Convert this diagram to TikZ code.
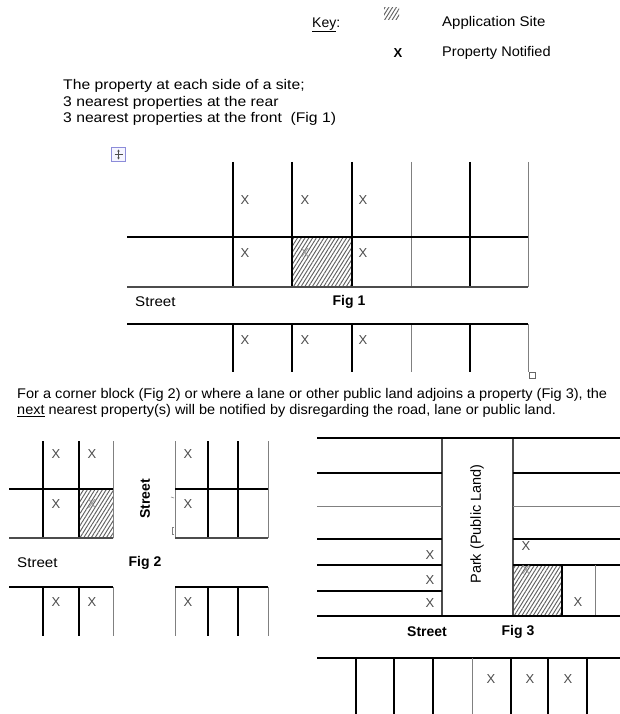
\documentclass[tikz,border=0pt]{standalone}
\usepackage{fontspec}
\setmainfont{Liberation Sans}
\usetikzlibrary{patterns.meta,arrows.meta}
\begin{document}
\begin{tikzpicture}[x=1pt,y=-1pt,
 bl/.style={line width=1.5pt,black},
 ml/.style={line width=1.1pt,black!70},
 gl/.style={line width=0.9pt,black!50},
 txt/.style={font=\fontsize{14}{16}\selectfont,inner sep=0pt,anchor=west},
 lab/.style={font=\fontsize{14}{16}\selectfont\bfseries,inner sep=0pt},
 xm/.style={font=\fontsize{13}{15}\selectfont,text=black!70,inner sep=0pt},
 xf/.style={xm,text=black!40},
 hatch/.style={pattern={Lines[angle=58,distance=3.2pt,line width=0.95pt]},pattern color=black!62},
]
\useasboundingbox[fill=white] (0,0) rectangle (620,714);

% ---------- Key ----------
\node[txt] (key) at (312,25) {\underline{Key}:};
\fill[hatch] (384,8) rectangle (399,20);
\node[txt,xscale=1.07] (app) at (442,23) {Application Site};
\node[font=\fontsize{13}{15}\selectfont\bfseries,inner sep=0pt] (kx) at (398,53) {X};
\node[txt,xscale=1.04] (pn) at (442,53) {Property Notified};

% ---------- intro text ----------
\node[txt,xscale=1.12] (p1) at (63,86) {The property at each side of a site;};
\node[txt,xscale=1.12] (p2) at (63,103) {3 nearest properties at the rear};
\node[txt,xscale=1.12] (p3) at (63,119) {3 nearest properties at the front\ \ (Fig 1)};

% move handle icon
\draw[blue!50!gray!60,fill=blue!4,line width=0.6pt] (111.5,147.5) rectangle (125.5,161.5);
\draw[black!70,line width=0.6pt,{Stealth[length=2pt,width=2.5pt]}-{Stealth[length=2pt,width=2.5pt]}] (118.5,149.5) -- (118.5,159.5);
\draw[black!70,line width=0.6pt] (114.5,154.5) -- (122.5,154.5);

% ---------- Fig 1 ----------
\fill[hatch] (292,237) rectangle (352,287);
\foreach \xx in {233,292,352,470}{
  \draw[bl] (\xx,162) -- (\xx,287);
  \draw[bl] (\xx,324) -- (\xx,372);
}
\foreach \xx in {411,528}{
  \draw[gl] (\xx,162) -- (\xx,287);
  \draw[gl] (\xx,324) -- (\xx,372);
}
\draw[bl] (127,237) -- (528,237);
\draw[ml] (127,287) -- (528,287);
\draw[bl] (127,324) -- (528,324);
\draw[black!60,line width=0.6pt] (529.5,372.5) rectangle (535,378);

\node[xm] (f1a) at (245,200) {X};
\node[xm] (f1b) at (305,200) {X};
\node[xm] (f1c) at (363,200) {X};
\node[xm] (f1d) at (245,253) {X};
\node[xf] (f1e) at (305,253) {X};
\node[xm] (f1f) at (363,253) {X};
\node[xm] (f1g) at (245,340) {X};
\node[xm] (f1h) at (305,340) {X};
\node[xm] (f1i) at (363,340) {X};
\node[txt,xscale=1.08] (st1) at (135,302) {Street};
\node[lab] (fig1) at (349,302) {Fig 1};

% ---------- paragraph ----------
\node[txt,xscale=1.04] (q1) at (17,395) {For a corner block (Fig 2) or where a lane or other public land adjoins a property (Fig 3), the};
\node[txt,xscale=1.035] (q2) at (17,411) {\underline{next} nearest property(s) will be notified by disregarding the road, lane or public land.};

% ---------- Fig 2 ----------
\fill[hatch] (79,489) rectangle (113,538);
\foreach \xx in {43,79,208,238}{
  \draw[bl] (\xx,441) -- (\xx,538);
  \draw[bl] (\xx,587) -- (\xx,636);
}
\foreach \xx in {113,175,268}{
  \draw[gl] (\xx,441) -- (\xx,538);
  \draw[gl] (\xx,587) -- (\xx,636);
}
\draw[bl] (9,489) -- (113,489);
\draw[ml] (9,538) -- (113,538);
\draw[bl] (175,489) -- (268,489);
\draw[ml] (175,538) -- (268,538);
\draw[bl] (9,587) -- (113,587);
\draw[bl] (175,587) -- (268,587);
\draw[black!50,line width=0.6pt] (171,497) -- (174,498);
\draw[black!50,line width=0.6pt] (174,527) -- (172,527) -- (172,534) -- (174,534);

\node[xm] (f2a) at (56,454) {X};
\node[xm] (f2b) at (92,454) {X};
\node[xm] (f2c) at (56,504) {X};
\node[xf] (f2d) at (92,504) {X};
\node[xm] (f2e) at (188,454) {X};
\node[xm] (f2f) at (188,504) {X};
\node[xm] (f2g) at (56,602) {X};
\node[xm] (f2h) at (92,602) {X};
\node[xm] (f2i) at (188,602) {X};
\node[lab,rotate=90] (st2v) at (145,499) {Street};
\node[txt,xscale=1.08] (st2) at (17,563) {Street};
\node[lab] (fig2) at (145,563) {Fig 2};

% ---------- Fig 3 ----------
\fill[hatch] (513,565) rectangle (562,616);
\draw[ml] (442,438) -- (442,616);
\draw[ml] (513,438) -- (513,616);
\draw[bl] (317,438) -- (620,438);
\foreach \yy in {473,539,565,591}{\draw[bl] (317,\yy) -- (442,\yy);}
\draw[gl] (317,506) -- (442,506);
\foreach \yy in {473,539,565}{\draw[bl] (513,\yy) -- (620,\yy);}
\draw[gl] (513,506) -- (620,506);
\draw[bl] (562,565) -- (562,616);
\draw[gl] (595,565) -- (595,616);
\draw[line width=1.8pt] (317,616) -- (620,616);

\node[xm] (f3a) at (430,555) {X};
\node[xm] (f3b) at (430,580) {X};
\node[xm] (f3c) at (430,603) {X};
\node[xm] (f3d) at (526,546) {X};
\node[xf] (f3e) at (526,570) {X};
\node[xm] (f3f) at (578,602) {X};
\node[font=\fontsize{14.5}{16}\selectfont,inner sep=0pt,rotate=90] (park) at (477,524) {Park (Public Land)};
\node[lab] (st3) at (427,632) {Street};
\node[lab] (fig3) at (518,632) {Fig 3};

\draw[bl] (317,658) -- (620,658);
\foreach \xx in {356,394,433,548}{\draw[bl] (\xx,658) -- (\xx,714);}
\draw[gl] (472,658) -- (472,714);
\foreach \xx in {511,587}{\draw[line width=2pt] (\xx,658) -- (\xx,714);}
\node[xm] (f3g) at (491,679) {X};
\node[xm] (f3h) at (530,679) {X};
\node[xm] (f3i) at (568,679) {X};
\end{tikzpicture}
\end{document}
